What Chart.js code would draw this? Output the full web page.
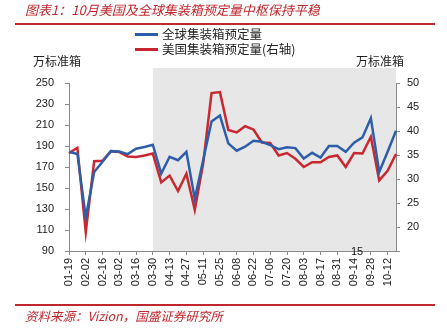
<!DOCTYPE html>
<html>
<head>
<meta charset="utf-8">
<script src="https://cdn.jsdelivr.net/npm/chart.js@4/dist/chart.umd.min.js"></script>
<style>
  html, body { margin: 0; padding: 0; background: #fff; }
  #wrap { position: relative; width: 447px; height: 329px; overflow: hidden; }
  #chart { position: absolute; left: 0; top: 0; }
  .txt { position: absolute; white-space: nowrap; font-family: "Noto Sans CJK SC", "Liberation Sans", sans-serif; }
  .title { left: 25px; top: 0px; font-size: 13px; color: #c0272d; font-style: italic; }
  .source { left: 25px; top: 306px; font-size: 12.5px; color: #c0272d; font-style: italic; }
  .rule { position: absolute; left: 15px; width: 420px; height: 2px; background: #c0272d; }
  .unit { top: 52px; font-size: 12px; color: #222; }
  .legend { left: 135px; font-size: 12.5px; color: #222; line-height: 15px; }
  .legend span.sw { display: inline-block; width: 23px; height: 3px; vertical-align: middle; margin-right: 4px; position: relative; top: -1px; }
</style>
</head>
<body>
<div id="wrap">
  <canvas id="chart" width="447" height="329"></canvas>
  <div class="txt title">图表1：10月美国及全球集装箱预定量中枢保持平稳</div>
  <div class="rule" style="top:23px"></div>
  <div class="txt legend" style="top:26px"><span class="sw" style="background:#2a5ca8"></span>全球集装箱预定量</div>
  <div class="txt legend" style="top:41px"><span class="sw" style="background:#c8262e"></span>美国集装箱预定量(右轴)</div>
  <div class="txt unit" style="left:33px">万标准箱</div>
  <div class="txt unit" style="left:356px">万标准箱</div>
  <div class="rule" style="top:304px"></div>
  <div class="txt source">资料来源：Vizion，国盛证券研究所</div>
</div>
<script>
// weekly dates (2020)
const weeks = [
  '01-19', '01-26', '02-02', '02-09', '02-16', '02-23', '03-02', '03-09', '03-16', '03-23',
  '03-30', '04-06', '04-13', '04-20', '04-27', '05-04', '05-11', '05-18', '05-25', '06-01',
  '06-08', '06-15', '06-22', '06-29', '07-06', '07-13', '07-20', '07-27', '08-03', '08-10',
  '08-17', '08-24', '08-31', '09-07', '09-14', '09-21', '09-28', '10-05', '10-12', '10-19'
];

// 全球集装箱预定量 (left axis)
const globalBookings = [
  184.5, 182.3, 122, 165.3, 175, 185.1, 184.8, 182.3, 187.4, 189,
  191.2, 163.7, 179.7, 176.5, 184.5, 139.8, 176.5, 213.3, 219, 192.5,
  185.5, 189.3, 195, 194, 190.9, 187, 188.7, 188, 178.1, 183.5,
  179, 190, 190, 184.5, 193.1, 198.2, 216.5, 165.3, 184.5, 204.6
];

// 美国集装箱预定量 (right axis)
const usBookings = [
  35.4, 36.5, 18.9, 33.7, 33.8, 35.8, 35.6, 34.7, 34.6, 34.9,
  35.3, 29.3, 30.7, 27.5, 31.1, 23.6, 33.2, 47.9, 48.1, 40.2,
  39.7, 41.0, 40.3, 37.6, 37.5, 34.9, 35.4, 34.2, 32.5, 33.5,
  33.5, 34.6, 34.9, 32.5, 35.4, 35.3, 38.8, 29.7, 31.7, 35.2
];

const leftAxis = { min: 90, max: 250, step: 20 };
const rightAxis = { min: 15, max: 50, step: 5 };
const shadeFrom = '03-30';

const axisColor = '#8a8a8a';
const tickFont = { family: 'Liberation Sans', size: 11 };

// gray background from 03-30 onwards
const shadePlugin = {
  id: 'shade',
  beforeDatasetsDraw(chart) {
    const { ctx, chartArea, scales } = chart;
    const x0 = scales.x.getPixelForValue(weeks.indexOf(shadeFrom));
    ctx.save();
    ctx.fillStyle = '#e7e7e7';
    ctx.fillRect(x0, chartArea.top - 15, chartArea.right - x0, chartArea.bottom - chartArea.top + 15);
    ctx.restore();
  }
};

// the right axis "15" label sits off the axis in the original
const strayLabel = {
  id: 'strayLabel',
  afterDraw(chart) {
    const { ctx, scales } = chart;
    ctx.save();
    ctx.font = '11px "Liberation Sans"';
    ctx.fillStyle = '#222';
    ctx.textAlign = 'center';
    ctx.textBaseline = 'middle';
    ctx.fillText(String(rightAxis.min), 357, scales.y1.getPixelForValue(rightAxis.min) + 1);
    ctx.restore();
  }
};

new Chart(document.getElementById('chart').getContext('2d'), {
  type: 'line',
  data: {
    labels: weeks,
    datasets: [
      {
        label: '全球集装箱预定量',
        data: globalBookings,
        yAxisID: 'y',
        borderColor: '#2e5ea8',
        borderWidth: 2.5,
        pointRadius: 0,
        tension: 0
      },
      {
        label: '美国集装箱预定量(右轴)',
        data: usBookings,
        yAxisID: 'y1',
        borderColor: '#c8282f',
        borderWidth: 2.5,
        pointRadius: 0,
        tension: 0
      }
    ]
  },
  options: {
    responsive: false,
    animation: false,
    devicePixelRatio: 1,
    layout: { padding: { top: 83, left: 0, right: 0, bottom: 0 } },
    plugins: {
      legend: { display: false },
      tooltip: { enabled: false }
    },
    scales: {
      x: {
        offset: false,
        grid: { drawOnChartArea: false, tickLength: 4, color: axisColor },
        border: { color: axisColor },
        ticks: {
          autoSkip: false,
          maxRotation: 90,
          minRotation: 90,
          padding: 3,
          color: '#222',
          font: tickFont,
          callback: function(value, index) {
            return index % 2 === 0 ? weeks[index] : null;
          }
        },
        afterFit: (scale) => { scale.height = 78; }
      },
      y: {
        position: 'left',
        min: leftAxis.min,
        max: leftAxis.max,
        grid: { drawOnChartArea: false, tickLength: 4, color: axisColor },
        border: { color: axisColor },
        ticks: { stepSize: leftAxis.step, padding: 11, color: '#222', font: tickFont },
        afterFit: (scale) => { scale.width = 69; }
      },
      y1: {
        position: 'right',
        min: rightAxis.min,
        max: rightAxis.max,
        grid: { drawOnChartArea: false, tickLength: 4, color: axisColor },
        border: { color: axisColor },
        ticks: {
          stepSize: rightAxis.step,
          padding: 7,
          color: '#222',
          font: tickFont,
          callback: (value) => value === rightAxis.min ? '' : value
        },
        afterFit: (scale) => { scale.width = 51; }
      }
    }
  },
  plugins: [shadePlugin, strayLabel]
});
</script>
</body>
</html>
